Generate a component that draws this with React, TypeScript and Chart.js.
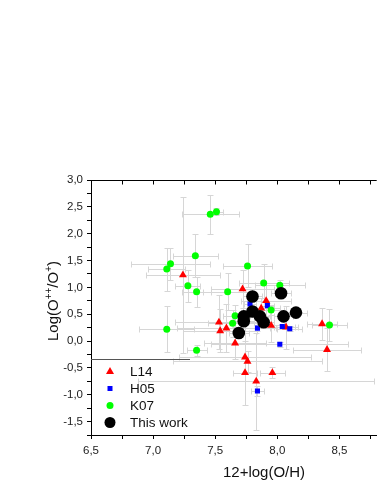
import React, { useEffect, useRef } from "react";
import { Chart, registerables } from "chart.js";

Chart.register(...registerables);

// ---------- data ----------
const l14X = [7.24, 7.72, 7.91, 7.87, 7.53, 8.36, 7.95, 8.07, 7.59, 7.54, 7.66, 8.40, 7.74, 7.76, 7.74, 7.96, 7.83];
const l14Y = [1.23, 0.97, 0.75, 0.61, 0.35, 0.32, 0.29, 0.26, 0.24, 0.19, -0.04, -0.16, -0.30, -0.38, -0.59, -0.59, -0.75];
const l14XErr = [0.30, 0.25, 0.20, 0.15, 0.35, 0.12, 0.10, 0.10, 0.40, 0.30, 0.25, 0.27, 0.53, 0.60, 0.10, 0.10, 0.95];
const l14YErr = [1.45, 0.35, 0.30, 0.20, 0.50, 0.30, 0.30, 0.40, 0.45, 0.40, 0.30, 0.40, 0.45, 0.20, 0.60, 0.10, 0.90];

const h05X = [7.78, 7.92, 7.84, 8.04, 8.10, 8.02, 7.84];
const h05Y = [0.69, 0.66, 0.24, 0.27, 0.23, -0.06, -0.93];
const h05XErr = [0.05, 0.05, 0.10, 0.10, 0.10, 0.55, 0.05];
const h05YErr = [0.05, 0.05, 0.05, 0.05, 0.05, 0.05, 0.10];

const k07X = [7.46, 7.51, 7.34, 7.14, 7.11, 7.76, 7.28, 7.35, 7.60, 7.89, 8.02, 7.95, 7.66, 7.64, 8.42, 7.11, 7.35];
const k07Y = [2.36, 2.41, 1.59, 1.44, 1.34, 1.40, 1.03, 0.92, 0.92, 1.08, 1.04, 0.58, 0.47, 0.33, 0.30, 0.22, -0.17];
const k07XErr = [0.23, 0.05, 0.18, 0.32, 0.15, 0.20, 0.10, 0.12, 0.20, 0.20, 0.20, 0.10, 0.10, 0.20, 0.14, 0.22, 0.08];
const k07YErr = [0.36, 0.06, 0.40, 0.30, 0.40, 0.40, 0.30, 0.28, 0.35, 0.35, 0.10, 0.10, 0.20, 0.25, 0.30, 0.43, 0.10];

const workX = [7.80, 8.03, 7.80, 8.15, 7.73, 7.86, 8.05, 7.73, 7.89, 7.69];
const workY = [0.83, 0.89, 0.55, 0.53, 0.46, 0.46, 0.46, 0.37, 0.35, 0.15];
const workXErr = [0.08, 0.08, 0.08, 0.09, 0.08, 0.08, 0.08, 0.08, 0.08, 0.08];
const workYErr = [0.05, 0.05, 0.05, 0.05, 0.05, 0.05, 0.05, 0.05, 0.05, 0.05];

const seriesNames = ["L14", "H05", "K07", "This work"];
const seriesColors = ["#ff0000", "#0000ff", "#00ff00", "#000000"];

const xMajor = [6.5, 7.0, 7.5, 8.0, 8.5];
const xMajorLabels = ["6,5", "7,0", "7,5", "8,0", "8,5"];
const yMajor = [3.0, 2.5, 2.0, 1.5, 1.0, 0.5, 0.0, -0.5, -1.0, -1.5];
const yMajorLabels = ["3,0", "2,5", "2,0", "1,5", "1,0", "0,5", "0,0", "-0,5", "-1,0", "-1,5"];

const xTitle = "12+log(O/H)";

const FONT = "'Liberation Sans', Arial, sans-serif";

function toPoints(xs: number[], ys: number[]) {
  return xs.map((x, i) => ({ x, y: ys[i] }));
}

function labelFor(v: number, majors: number[], labels: string[]) {
  for (let i = 0; i < majors.length; i++) {
    if (Math.abs(v - majors[i]) < 1e-6) return labels[i];
  }
  return "";
}

function drawMarker(ctx: CanvasRenderingContext2D, kind: string, x: number, y: number, color: string) {
  ctx.fillStyle = color;
  ctx.beginPath();
  if (kind === "triangle") {
    ctx.moveTo(x, y - 4.5);
    ctx.lineTo(x + 4, y + 2.5);
    ctx.lineTo(x - 4, y + 2.5);
    ctx.closePath();
  } else if (kind === "rect") {
    ctx.rect(x - 2.5, y - 2.5, 5, 5);
  } else if (kind === "small") {
    ctx.arc(x, y, 3.5, 0, Math.PI * 2);
  } else {
    ctx.arc(x, y, 5.5, 0, Math.PI * 2);
  }
  ctx.fill();
}

const decorPlugin = {
  id: "decor",
  beforeDatasetsDraw(chart: any) {
    const ctx: CanvasRenderingContext2D = chart.ctx;
    const xs = chart.scales.x;
    const ys = chart.scales.y;
    const area = chart.chartArea;
    const groups = [
      [l14X, l14Y, l14XErr, l14YErr],
      [h05X, h05Y, h05XErr, h05YErr],
      [k07X, k07Y, k07XErr, k07YErr],
      [workX, workY, workXErr, workYErr],
    ];
    ctx.save();
    ctx.beginPath();
    ctx.rect(area.left, area.top, area.right - area.left, area.bottom - area.top);
    ctx.clip();
    ctx.strokeStyle = "#d6d6d6";
    ctx.lineWidth = 1;
    const cap = 3;
    groups.forEach(([gx, gy, gxe, gye]) => {
      gx.forEach((xv, i) => {
        const yv = gy[i];
        const px = Math.round(xs.getPixelForValue(xv)) + 0.5;
        const py = Math.round(ys.getPixelForValue(yv)) + 0.5;
        const x1 = Math.round(xs.getPixelForValue(xv - gxe[i])) + 0.5;
        const x2 = Math.round(xs.getPixelForValue(xv + gxe[i])) + 0.5;
        const y1 = Math.round(ys.getPixelForValue(yv + gye[i])) + 0.5;
        const y2 = Math.round(ys.getPixelForValue(yv - gye[i])) + 0.5;
        ctx.beginPath();
        ctx.moveTo(x1, py);
        ctx.lineTo(x2, py);
        ctx.moveTo(x1, py - cap);
        ctx.lineTo(x1, py + cap);
        ctx.moveTo(x2, py - cap);
        ctx.lineTo(x2, py + cap);
        ctx.moveTo(px, y1);
        ctx.lineTo(px, y2);
        ctx.moveTo(px - cap, y1);
        ctx.lineTo(px + cap, y1);
        ctx.moveTo(px - cap, y2);
        ctx.lineTo(px + cap, y2);
        ctx.stroke();
      });
    });
    ctx.restore();
  },
  afterDraw(chart: any) {
    const ctx: CanvasRenderingContext2D = chart.ctx;
    const xs = chart.scales.x;
    const area = chart.chartArea;
    ctx.save();
    // top axis line with inward ticks
    ctx.strokeStyle = "#000";
    ctx.lineWidth = 1;
    const top = Math.round(area.top) + 0.5;
    ctx.beginPath();
    ctx.moveTo(area.left, top);
    ctx.lineTo(area.right, top);
    xs.ticks.forEach((t: any) => {
      const px = Math.round(xs.getPixelForValue(t.value)) + 0.5;
      ctx.moveTo(px, top);
      ctx.lineTo(px, top + 4);
    });
    ctx.stroke();

    // legend
    const lx = area.left;
    const lineY = 359.5;
    ctx.strokeStyle = "#555";
    ctx.beginPath();
    ctx.moveTo(lx, lineY);
    ctx.lineTo(190, lineY);
    ctx.stroke();
    const kinds = ["triangle", "rect", "small", "big"];
    const rows = [371.5, 388.5, 405.5, 422.5];
    ctx.font = `13.5px ${FONT}`;
    ctx.textBaseline = "middle";
    ctx.textAlign = "left";
    seriesNames.forEach((name, i) => {
      drawMarker(ctx, kinds[i], 110, rows[i], seriesColors[i]);
      ctx.fillStyle = "#111";
      ctx.fillText(name, 130, rows[i] + 0.5);
    });

    // x title
    ctx.fillStyle = "#111";
    ctx.font = `15px ${FONT}`;
    ctx.textAlign = "center";
    ctx.textBaseline = "alphabetic";
    ctx.fillText(xTitle, 264, 477);

    // y title with superscripts, rotated
    ctx.translate(57.5, 301);
    ctx.rotate(-Math.PI / 2);
    const parts: [string, boolean][] = [["Log(O", false], ["++", true], ["/O", false], ["+", true], [")", false]];
    const normal = `15px ${FONT}`;
    const sup = `10px ${FONT}`;
    let total = 0;
    parts.forEach(([s, isSup]) => {
      ctx.font = isSup ? sup : normal;
      total += ctx.measureText(s).width;
    });
    let cx = -total / 2;
    ctx.textAlign = "left";
    parts.forEach(([s, isSup]) => {
      ctx.font = isSup ? sup : normal;
      ctx.fillText(s, cx, isSup ? -6 : 0);
      cx += ctx.measureText(s).width;
    });
    ctx.restore();
  },
};

export default function App() {
  const ref = useRef<HTMLCanvasElement | null>(null);

  useEffect(() => {
    if (!ref.current) return;
    const mk = (i: number, data: any[], style: string, radius: number, order: number) => ({
      label: seriesNames[i],
      data,
      pointStyle: style,
      pointRadius: radius,
      pointHoverRadius: radius,
      backgroundColor: seriesColors[i],
      borderColor: seriesColors[i],
      borderWidth: 0,
      showLine: false,
      order,
    });
    const chart = new Chart(ref.current, {
      type: "scatter",
      data: {
        datasets: [
          mk(0, toPoints(l14X, l14Y), "triangle", 4.6, 3),
          mk(1, toPoints(h05X, h05Y), "rect", 3.6, 2),
          mk(2, toPoints(k07X, k07Y), "circle", 3.5, 1),
          mk(3, toPoints(workX, workY), "circle", 6.3, 0),
        ],
      },
      options: {
        responsive: false,
        animation: false,
        devicePixelRatio: 1,
        layout: { padding: { top: 180, left: 0, right: 0, bottom: 0 } },
        plugins: {
          legend: { display: false },
          tooltip: { enabled: false },
        },
        scales: {
          x: {
            type: "linear",
            position: "bottom",
            min: 6.5,
            max: 8.8,
            afterFit: (s: any) => {
              s.height = 60;
              s.paddingRight = 0;
              s.paddingLeft = 0;
            },
            border: { display: true, color: "#000", width: 1 },
            grid: { display: true, drawOnChartArea: false, drawTicks: true, tickLength: 4, color: "#000" },
            ticks: {
              stepSize: 0.25,
              includeBounds: false,
              autoSkip: false,
              maxRotation: 0,
              padding: 5,
              color: "#222",
              font: { family: FONT, size: 11.5 },
              callback: (v: any) => labelFor(Number(v), xMajor, xMajorLabels),
            },
          },
          y: {
            type: "linear",
            position: "left",
            min: -1.75,
            max: 3.0,
            afterFit: (s: any) => {
              s.width = 91;
              s.paddingTop = 0;
              s.paddingBottom = 0;
            },
            border: { display: true, color: "#000", width: 1 },
            grid: { display: true, drawOnChartArea: false, drawTicks: true, tickLength: 4, color: "#000" },
            ticks: {
              stepSize: 0.25,
              includeBounds: false,
              autoSkip: false,
              padding: 4,
              color: "#222",
              font: { family: FONT, size: 11.5 },
              callback: (v: any) => labelFor(Number(v), yMajor, yMajorLabels),
            },
          },
        },
      },
      plugins: [decorPlugin],
    });
    return () => chart.destroy();
  }, []);

  return (
    <div style={{ position: "fixed", left: 0, top: 0, width: 383, height: 495, background: "#fff" }}>
      <canvas ref={ref} width={383} height={495} style={{ display: "block" }} />
    </div>
  );
}
